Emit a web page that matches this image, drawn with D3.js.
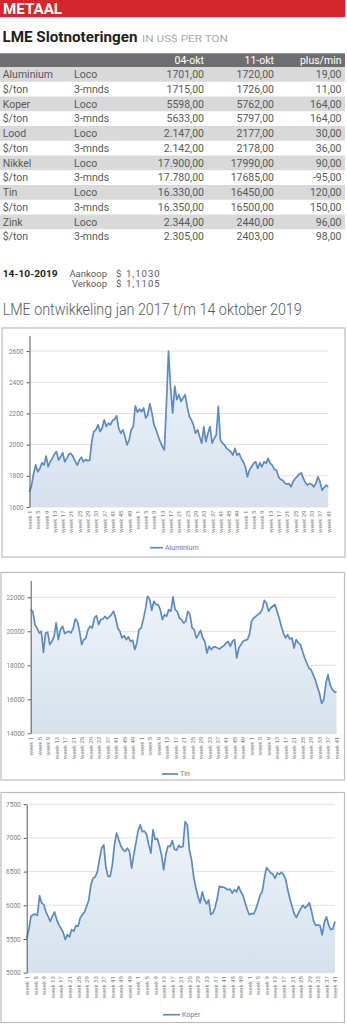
<!DOCTYPE html>
<html>
<head>
<meta charset="utf-8">
<script src="https://cdn.jsdelivr.net/npm/d3@7"></script>
<style>
  html, body { margin: 0; padding: 0; background: #fff; }
  svg { display: block; font-family: Roboto, "DejaVu Sans", sans-serif; }
</style>
</head>
<body>
<svg id="page" width="347" height="1024"></svg>
<script>
// ---- Slotnoteringen table ----
const headerCols = ["04-okt", "11-okt", "plus/min"];
const rowMetal = ["Aluminium", "$/ton", "Koper", "$/ton", "Lood", "$/ton", "Nikkel", "$/ton", "Tin", "$/ton", "Zink", "$/ton"];
const rowTerm = ["Loco", "3-mnds", "Loco", "3-mnds", "Loco", "3-mnds", "Loco", "3-mnds", "Loco", "3-mnds", "Loco", "3-mnds"];
const price0410 = ["1701,00", "1715,00", "5598,00", "5633,00", "2.147,00", "2.142,00", "17.900,00", "17.780,00", "16.330,00", "16.350,00", "2.344,00", "2.305,00"];
const price1110 = ["1720,00", "1726,00", "5762,00", "5797,00", "2177,00", "2178,00", "17990,00", "17685,00", "16450,00", "16500,00", "2440,00", "2403,00"];
const plusMin = ["19,00", "11,00", "164,00", "164,00", "30,00", "36,00", "90,00", "-95,00", "120,00", "150,00", "96,00", "98,00"];

// ---- Exchange rate ----
const rateDate = "14-10-2019";
const rateLabels = ["Aankoop", "Verkoop"];
const rateValues = ["1,1030", "1,1105"];

// ---- Weekly categories: 2017, 2018, 2019 (t/m week 41) ----
const weeksPerYear = [52, 52, 41];
const weekLabels = weeksPerYear.flatMap(n => d3.range(1, n + 1).map(w => "week " + w));

// ---- LME weekly prices (US$/ton) ----
const aluminium = [
  1697,1740,1815,1870,1826,1847,1884,1869,1927,1858,
  1890,1912,1940,1955,1901,1922,1948,1890,1912,1940,
  1944,1922,1894,1869,1901,1919,1890,1905,1897,1901,
  2019,2084,2095,2127,2084,2105,2159,2116,2138,2127,
  2155,2163,2185,2105,2073,2095,2052,1998,2030,2095,
  2116,2249,2207,2228,2212,2235,2170,2192,2262,2202,
  2127,2095,2056,2019,1987,1966,2267,2600,2363,2202,
  2374,2288,2320,2277,2299,2320,2245,2181,2159,2127,
  2073,2095,2052,2009,2116,2019,2073,2116,2009,
  2041,2062,2245,2030,2009,1998,1976,1966,1955,1933,
  1976,1933,1944,1912,1890,1858,1794,1837,1858,1880,
  1890,1847,1884,1858,1890,1880,1912,1880,1869,1841,
  1837,1794,1776,1772,1755,1746,
  1751,1729,1761,1783,1794,1811,1819,1783,1755,1740,
  1751,1746,1729,1751,1794,1761,
  1708,1725,1740,1729
];
const tin = [
  21275,21176,20392,20196,19902,20000,18765,19902,19941,19216,
  19412,19706,20490,19510,20098,20294,19863,19941,20000,19902,
  20196,20725,20588,20000,19216,19510,19608,20098,20294,20196,
  20784,20922,20392,20686,20725,20882,20725,20843,20980,21176,
  20784,20196,20000,19608,19745,19510,19667,19412,19471,18922,
  19314,20098,20196,20686,21275,22059,21902,21235,21765,21569,
  21569,21275,20686,20980,20882,21275,21176,22020,21275,21176,
  20784,20686,20490,20588,21176,20980,20196,20098,19608,19804,
  20059,19608,19412,18725,19118,18922,19078,19078,19020,18961,
  19078,19157,19314,19412,19118,19412,19510,18431,19020,19216,
  19412,19471,19510,19804,20588,20784,20882,20980,21078,21275,
  21824,21667,21176,21373,21471,21569,21176,20784,20294,19902,
  19608,19804,19549,19608,19020,19510,19314,19216,18824,18431,
  18137,17843,17745,17451,17157,16745,16353,15765,15961,16941,
  17451,16843,16588,16451,16392
];
const koper = [
  5507,5640,5837,5862,5870,5850,6143,6035,6010,5900,
  5837,5760,5837,5901,5788,5714,5660,5600,5492,5566,
  5530,5640,5616,5700,5690,5813,5862,5900,5985,6080,
  6306,6404,6419,6500,6680,6848,6897,6560,6429,6430,
  6600,6900,7070,6971,6880,6823,6800,6848,6800,6552,
  6749,6922,7100,7193,7094,7100,7050,6900,6774,7119,
  6980,6990,6880,6740,6527,6760,6880,6873,6960,6830,
  6820,6890,6860,6873,7242,7193,6823,6675,6420,6260,
  6130,6035,6200,6084,6020,6080,5862,5887,5970,6100,
  6280,6270,6270,6250,6230,6240,6180,6230,6200,6280,
  6200,6150,6040,5940,5860,5880,5870,5940,6040,6150,
  6200,6400,6560,6520,6480,6460,6400,6480,6460,6490,
  6450,6380,6220,6090,5980,5870,5820,5890,5950,6000,
  5960,5990,6040,5920,5770,5700,5710,5700,5560,5740,
  5830,5710,5640,5650,5760
];

const aluminiumTicks = [1600, 1800, 2000, 2200, 2400, 2600];
const tinTicks = [14000, 16000, 18000, 20000, 22000];
const koperTicks = [5000, 5500, 6000, 6500, 7000, 7500];

const svg = d3.select("#page");
const textGray = "#58595b";

// ---- Banner ----
svg.append("rect").attr("x", 0).attr("y", 0).attr("width", 345).attr("height", 17).attr("fill", "#d4262c");
svg.append("text").attr("x", 3).attr("y", 14.2).attr("fill", "#fff")
  .attr("font-size", 14).attr("font-weight", 700).attr("textLength", 59).attr("lengthAdjust", "spacingAndGlyphs")
  .text("METAAL");

// ---- Title ----
svg.append("text").attr("x", 2.5).attr("y", 41.8).attr("fill", "#231f20")
  .attr("font-size", 14).attr("font-weight", 700).attr("textLength", 135).attr("lengthAdjust", "spacingAndGlyphs")
  .text("LME Slotnoteringen");
svg.append("text").attr("x", 142).attr("y", 41.8).attr("fill", "#a7a9ac")
  .attr("font-size", 8.5).attr("textLength", 86).attr("lengthAdjust", "spacingAndGlyphs")
  .text("IN US$ PER TON");

// ---- Table ----
const tableTop = 53.3, headH = 13.7, rowH = 14.75;
const numRight = [204, 274, 341.5];
svg.append("rect").attr("x", 0).attr("y", tableTop).attr("width", 345).attr("height", headH).attr("fill", "#6d6e71");
headerCols.forEach((h, j) => {
  svg.append("text").attr("x", numRight[j]).attr("y", tableTop + headH / 2).attr("dy", "0.35em")
    .attr("text-anchor", "end").attr("fill", "#fff").attr("font-size", 10.5).text(h);
});
const rows = svg.append("g");
rowMetal.forEach((m, i) => {
  const y0 = tableTop + headH + i * rowH;
  if (i % 2 === 0) rows.append("rect").attr("x", 0).attr("y", y0).attr("width", 345).attr("height", rowH).attr("fill", "#d9d9da");
  const cy = y0 + rowH / 2;
  const cells = [[2.7, "start", m], [74, "start", rowTerm[i]], [numRight[0], "end", price0410[i]], [numRight[1], "end", price1110[i]], [numRight[2], "end", plusMin[i]]];
  cells.forEach(([x, anchor, t]) => {
    rows.append("text").attr("x", x).attr("y", cy).attr("dy", "0.35em").attr("text-anchor", anchor)
      .attr("fill", textGray).attr("font-size", 10.5).text(t);
  });
});

// ---- Exchange rate ----
const rate = svg.append("g").attr("font-size", 9.5).attr("fill", textGray);
rate.append("text").attr("x", 2.7).attr("y", 276.5).attr("font-weight", 700).attr("fill", "#231f20")
  .attr("textLength", 55).attr("lengthAdjust", "spacingAndGlyphs").text(rateDate);
rateLabels.forEach((l, i) => {
  const y = 276.5 + i * 10.5;
  rate.append("text").attr("x", 107).attr("y", y).attr("text-anchor", "end").text(l);
  rate.append("text").attr("x", 116).attr("y", y).text("$");
  rate.append("text").attr("x", 126).attr("y", y).attr("letter-spacing", 1).text(rateValues[i]);
});

// ---- Section heading ----
svg.append("text").attr("x", 2.7).attr("y", 314.5).attr("fill", "#58595b")
  .attr("font-size", 16).attr("font-weight", 300).attr("textLength", 299).attr("lengthAdjust", "spacingAndGlyphs")
  .text("LME ontwikkeling jan 2017 t/m 14 oktober 2019");

// ---- Line charts ----
const lineColor = "#5b8bc2";
const defs = svg.append("defs");

function drawChart(cfg) {
  const g = svg.append("g");
  g.append("rect").attr("x", cfg.box[0]).attr("y", cfg.box[1]).attr("width", cfg.box[2]).attr("height", cfg.box[3])
    .attr("fill", "#fff").attr("stroke", "#bcbcbc").attr("stroke-width", 1.2);

  const x = d3.scalePoint().domain(d3.range(weekLabels.length)).range([cfg.x0, cfg.x1]);
  const y = d3.scaleLinear().domain(cfg.domain).range([cfg.yBottom, cfg.yTop]);

  // horizontal gridlines
  g.append("g").selectAll("line").data(cfg.ticks).join("line")
    .attr("x1", cfg.x0).attr("x2", cfg.gridEnd)
    .attr("y1", d => y(d)).attr("y2", d => y(d))
    .attr("stroke", "#e0e0e0").attr("stroke-width", 1);

  // area gradient
  const gid = "fill-" + cfg.name;
  const grad = defs.append("linearGradient").attr("id", gid).attr("gradientUnits", "userSpaceOnUse")
    .attr("x1", 0).attr("x2", 0).attr("y1", cfg.yTop).attr("y2", cfg.yBottom);
  grad.append("stop").attr("offset", 0).attr("stop-color", "#f1f5f9");
  grad.append("stop").attr("offset", 1).attr("stop-color", "#d6e1ec");

  const area = d3.area().x((d, i) => x(i)).y0(y(cfg.domain[0])).y1(d => y(d));
  g.append("path").datum(cfg.values).attr("d", area).attr("fill", `url(#${gid})`);

  const line = d3.line().x((d, i) => x(i)).y(d => y(d));
  g.append("path").datum(cfg.values).attr("d", line).attr("fill", "none")
    .attr("stroke", lineColor).attr("stroke-width", 1.7).attr("stroke-linejoin", "round");

  // y axis
  const ya = g.append("g").attr("transform", `translate(${cfg.x0},0)`)
    .call(d3.axisLeft(y).tickValues(cfg.ticks).tickFormat(d3.format("d")).tickSize(3).tickSizeOuter(0).tickPadding(3));
  ya.select(".domain").attr("stroke", "#595959");
  ya.selectAll(".tick line").attr("stroke", "#595959");
  ya.selectAll("text").attr("font-size", 6.5).attr("fill", "#7f7f7f").attr("font-family", "Roboto, sans-serif");

  // x axis: every 4th week label, rotated
  const xa = g.append("g").attr("transform", `translate(0,${cfg.yBottom})`)
    .call(d3.axisBottom(x).tickValues(d3.range(0, weekLabels.length, 4)).tickSize(0).tickFormat(i => weekLabels[i]));
  xa.select(".domain").remove();
  xa.selectAll("text").attr("font-size", 6).attr("fill", "#7f7f7f").attr("font-family", "Roboto, sans-serif")
    .attr("text-anchor", "end").attr("transform", "rotate(-90)").attr("x", -3.5).attr("y", 0).attr("dy", "0.32em");

  // legend
  g.append("line").attr("x1", cfg.legend[0]).attr("x2", cfg.legend[1]).attr("y1", cfg.legend[2]).attr("y2", cfg.legend[2])
    .attr("stroke", lineColor).attr("stroke-width", 1.7);
  g.append("text").attr("x", cfg.legend[1] + 2).attr("y", cfg.legend[2]).attr("dy", "0.35em")
    .attr("font-size", 7).attr("fill", "#6a7c97").text(cfg.name);
}

drawChart({
  name: "Aluminium", values: aluminium, ticks: aluminiumTicks, domain: [1600, 2700],
  box: [2, 328, 343, 229], x0: 29.5, x1: 328.3, gridEnd: 328.3, yTop: 335.5, yBottom: 507,
  legend: [150, 163, 547.7]
});
drawChart({
  name: "Tin", values: tin, ticks: tinTicks, domain: [14000, 23000],
  box: [1, 572.5, 343.5, 207.5], x0: 30.7, x1: 336.5, gridEnd: 336.7, yTop: 580.3, yBottom: 733.3,
  legend: [162, 178, 774]
});
drawChart({
  name: "Koper", values: koper, ticks: koperTicks, domain: [5000, 7500],
  box: [1, 792.5, 343.5, 230], x0: 26.7, x1: 335, gridEnd: 335, yTop: 804.2, yBottom: 972.7,
  legend: [163, 180, 1014.7]
});
</script>
</body>
</html>
